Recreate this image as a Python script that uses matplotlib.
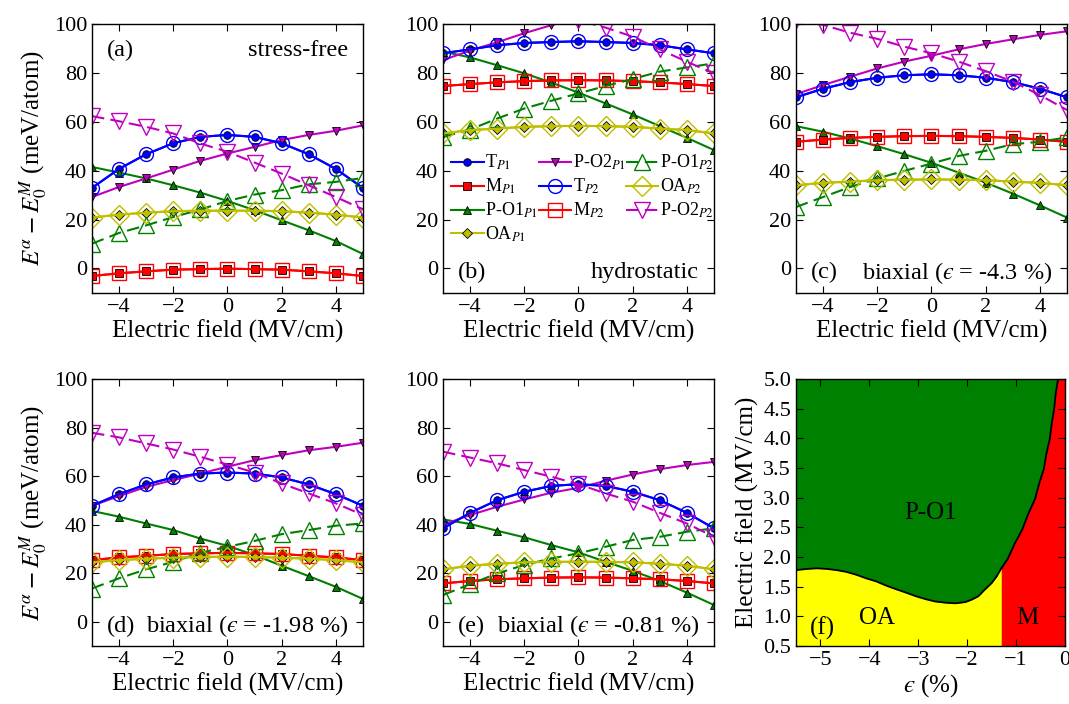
import numpy as np
import matplotlib.pyplot as plt

plt.rcParams['font.family'] = ['Liberation Serif', 'DejaVu Serif']
plt.rcParams['mathtext.fontset'] = 'stix'
plt.rcParams['xtick.direction'] = 'in'
plt.rcParams['ytick.direction'] = 'in'
plt.rcParams['xtick.top'] = True
plt.rcParams['ytick.right'] = True
plt.rcParams['xtick.major.size'] = 5
plt.rcParams['ytick.major.size'] = 5
plt.rcParams['axes.linewidth'] = 1.0
plt.rcParams['xtick.labelsize'] = 16
plt.rcParams['ytick.labelsize'] = 16

# electric field grid (MV/cm)
field = [-5, -4, -3, -2, -1, 0, 1, 2, 3, 4, 5]

# (a) stress-free
a_T = [32.9, 40.7, 46.7, 51.2, 53.8, 54.6, 53.8, 51.2, 46.7, 40.7, 32.9]
a_M = [-3.1, -2.0, -1.2, -0.5, -0.3, -0.1, -0.3, -0.5, -1.2, -2.0, -3.1]
a_OA = [20.8, 22.0, 22.8, 23.4, 23.6, 23.6, 23.6, 23.4, 22.8, 22.0, 20.8]
a_PO1 = [41.5, 39.2, 36.8, 34.0, 31.0, 27.6, 23.8, 19.7, 15.6, 11.2, 5.9]
a_PO1b = [10.1, 14.5, 17.6, 21.0, 24.1, 27.6, 30.2, 32.0, 34.4, 35.4, 37.0]
a_PO2 = [29.2, 33.3, 36.8, 40.4, 44.0, 47.0, 49.7, 52.5, 54.6, 56.3, 58.5]
a_PO2b = [62.3, 60.2, 57.9, 55.2, 51.1, 47.7, 43.3, 38.8, 34.0, 29.2, 24.2]

# (b) hydrostatic
b_T = [88.0, 89.6, 91.3, 92.2, 92.6, 92.9, 92.6, 92.2, 91.3, 89.6, 88.0]
b_M = [74.6, 75.4, 76.1, 76.6, 76.9, 77.0, 76.9, 76.6, 76.1, 75.4, 74.6]
b_OA = [55.2, 56.6, 57.2, 57.9, 58.2, 58.3, 58.2, 57.9, 57.2, 56.6, 55.2]
b_PO1 = [88.7, 86.3, 83.1, 79.8, 76.0, 71.9, 67.5, 63.0, 58.2, 53.4, 48.4]
b_PO1b = [53.8, 56.8, 61.3, 65.4, 68.6, 71.6, 74.6, 77.5, 80.5, 82.2, 83.9]
b_PO2 = [85.2, 89.1, 92.5, 96.2, 99.5, 102.5, 105.3, 108.0, 110.0, 112.0, 114.0]
b_PO2b = [112.5, 110.5, 108.0, 105.5, 103.5, 101.5, 98.5, 94.8, 89.6, 84.5, 79.8]

# (c) biaxial -4.3 %
c_T = [70.0, 73.5, 76.2, 78.0, 79.0, 79.4, 79.0, 78.0, 76.2, 73.5, 70.0]
c_M = [51.8, 52.7, 53.4, 53.8, 54.1, 54.2, 54.1, 53.8, 53.4, 52.7, 51.8]
c_OA = [34.0, 35.0, 35.5, 36.1, 36.3, 36.4, 36.3, 36.1, 35.5, 35.0, 34.0]
c_PO1 = [58.2, 55.9, 53.1, 50.0, 46.7, 43.2, 39.2, 35.1, 30.6, 25.8, 20.8]
c_PO1b = [25.1, 29.2, 33.3, 36.8, 39.9, 42.9, 46.0, 48.1, 50.8, 51.8, 53.6]
c_PO2 = [71.3, 75.0, 78.4, 81.8, 84.6, 87.0, 89.6, 91.8, 93.7, 95.5, 97.0]
c_PO2b = [101.5, 99.6, 96.4, 93.9, 90.7, 88.0, 84.6, 80.7, 76.4, 70.9, 64.8]

# (d) biaxial -1.98 %
d_T = [47.8, 52.6, 56.6, 59.5, 61.1, 61.5, 61.1, 59.5, 56.6, 52.6, 47.8]
d_M = [25.4, 26.5, 27.2, 27.9, 28.2, 28.4, 28.2, 27.9, 27.2, 26.5, 25.4]
d_OA = [24.5, 25.4, 26.0, 26.4, 26.7, 26.8, 26.7, 26.4, 26.0, 25.4, 24.5]
d_PO1 = [45.7, 43.3, 40.5, 37.8, 34.3, 31.3, 27.5, 23.1, 18.8, 14.4, 9.4]
d_PO1b = [13.7, 17.9, 21.6, 24.7, 28.4, 30.9, 33.3, 36.1, 37.8, 39.6, 40.5]
d_PO2 = [47.8, 51.8, 55.6, 58.4, 61.1, 63.9, 66.6, 68.7, 70.7, 72.1, 73.8]
d_PO2b = [77.9, 76.0, 73.5, 71.0, 68.0, 64.8, 61.5, 57.0, 52.9, 48.8, 44.0]

# (e) biaxial -0.81 %
e_T = [38.5, 44.9, 50.1, 53.6, 56.0, 56.7, 56.0, 53.6, 50.1, 44.9, 38.5]
e_M = [15.8, 16.8, 17.5, 17.9, 18.2, 18.3, 18.2, 17.9, 17.5, 16.8, 15.8]
e_OA = [21.6, 23.1, 23.9, 24.5, 24.7, 24.7, 24.7, 24.5, 23.9, 23.1, 21.6]
e_PO1 = [42.2, 40.3, 37.5, 34.8, 31.6, 28.6, 24.7, 21.0, 16.8, 12.0, 6.9]
e_PO1b = [11.0, 15.5, 19.9, 23.4, 26.1, 28.2, 30.9, 33.7, 35.0, 37.1, 38.5]
e_PO2 = [40.0, 44.0, 47.4, 50.4, 53.2, 55.2, 58.1, 60.7, 62.9, 64.6, 65.9]
e_PO2b = [70.1, 67.7, 65.3, 62.5, 59.8, 56.7, 52.9, 49.5, 44.9, 40.5, 35.0]

# (f) phase diagram boundaries (strain %, field MV/cm)
oa_eps = [-5.5, -5.27, -5.07, -4.87, -4.67, -4.47, -4.26, -4.06, -3.86, -3.66, -3.46,
          -3.25, -3.05, -2.85, -2.65, -2.44, -2.24, -2.04, -1.91, -1.77, -1.64, -1.50, -1.40, -1.30]
oa_field = [1.78, 1.80, 1.81, 1.80, 1.78, 1.75, 1.70, 1.64, 1.59, 1.52, 1.46,
            1.40, 1.34, 1.29, 1.25, 1.23, 1.22, 1.24, 1.28, 1.34, 1.45, 1.56, 1.67, 1.81]
m_eps = [-1.30, -1.17, -1.03, -0.87, -0.75, -0.61, -0.53, -0.43, -0.38, -0.31, -0.27, -0.22, -0.19, -0.14]
m_field = [1.81, 1.97, 2.22, 2.47, 2.73, 2.98, 3.23, 3.49, 3.74, 3.99, 4.25, 4.50, 4.75, 5.0]

eps = '$\u03f5$'
panels = [
    ('(a)', 'stress-free', 'top', a_T, a_M, a_PO1, a_OA, a_PO2, a_PO1b, a_PO2b),
    ('(b)', 'hydrostatic', 'bottom', b_T, b_M, b_PO1, b_OA, b_PO2, b_PO1b, b_PO2b),
    ('(c)', 'biaxial (' + eps + ' = -4.3 %)', 'bottom', c_T, c_M, c_PO1, c_OA, c_PO2, c_PO1b, c_PO2b),
    ('(d)', 'biaxial (' + eps + ' = -1.98 %)', 'bottom', d_T, d_M, d_PO1, d_OA, d_PO2, d_PO1b, d_PO2b),
    ('(e)', 'biaxial (' + eps + ' = -0.81 %)', 'bottom', e_T, e_M, e_PO1, e_OA, e_PO2, e_PO1b, e_PO2b),
]

fig = plt.figure(figsize=(10.69, 7.04), dpi=100)
lefts = [0.086, 0.4144, 0.7446]
w = 0.2535
rects = [(lefts[0], 0.584, w, 0.382), (lefts[1], 0.584, w, 0.382), (lefts[2], 0.584, w, 0.382),
         (lefts[0], 0.0824, w, 0.379), (lefts[1], 0.0824, w, 0.379)]

ms_f, ms_o = 5.5, 10
for i, (tag, note, pos, T, M, PO1, OA, PO2, PO1b, PO2b) in enumerate(panels):
    ax = fig.add_axes(rects[i])
    ax.plot(field, T, '-', color='b', lw=1.5, marker='o', ms=ms_f, mec='k', mew=0.6, label=r'T$_{P1}$')
    ax.plot(field, M, '-', color='r', lw=1.5, marker='s', ms=ms_f, mec='k', mew=0.6, label=r'M$_{P1}$')
    ax.plot(field, PO1, '-', color='g', lw=1.5, marker='^', ms=ms_f + 0.5, mec='k', mew=0.6, label=r'P-O1$_{P1}$')
    ax.plot(field, OA, '-', color='y', lw=1.5, marker='D', ms=ms_f, mec='k', mew=0.6, label=r'OA$_{P1}$')
    ax.plot(field, PO2, '-', color='m', lw=1.5, marker='v', ms=ms_f + 0.5, mec='k', mew=0.6, label=r'P-O2$_{P1}$')
    ax.plot(field, T, '-', color='b', lw=1.5, marker='o', ms=ms_o, mfc='none', mec='b', mew=1.0, label=r'T$_{P2}$')
    ax.plot(field, M, '-', color='r', lw=1.5, marker='s', ms=ms_o, mfc='none', mec='r', mew=1.0, label=r'M$_{P2}$')
    ax.plot(field, PO1b, '--', color='g', lw=1.5, dashes=(6, 3), marker='^', ms=ms_o + 1, mfc='none', mec='g', mew=1.0, label=r'P-O1$_{P2}$')
    ax.plot(field, OA, '-', color='y', lw=1.5, marker='D', ms=ms_o, mfc='none', mec='y', mew=1.0, label=r'OA$_{P2}$')
    ax.plot(field, PO2b, '--', color='m', lw=1.5, dashes=(6, 3), marker='v', ms=ms_o + 1, mfc='none', mec='m', mew=1.0, label=r'P-O2$_{P2}$')
    ax.set_xlim(-5, 5)
    ax.set_ylim(-10, 100)
    ax.set_xticks([-4, -2, 0, 2, 4])
    ax.set_yticks([0, 20, 40, 60, 80, 100])
    ax.set_xlabel('Electric field (MV/cm)', fontsize=18, labelpad=2)
    if i in (0, 3):
        ax.set_ylabel(r'$E^{\alpha} - E_0^{M}$ (meV/atom)', fontsize=18, labelpad=3)
    ty = 0.9 if pos == 'top' else 0.075
    ax.text(0.055, ty, tag, transform=ax.transAxes, fontsize=17.5, va='center', ha='left')
    ax.text(0.945, ty, note, transform=ax.transAxes, fontsize=17.5, va='center', ha='right')
    if i == 1:
        ax.legend(ncol=3, loc='upper left', bbox_to_anchor=(0.03, 0.52), frameon=False,
                  fontsize=13, numpoints=1, handlelength=1.8, handletextpad=0.1,
                  columnspacing=0.0, labelspacing=0.25, borderpad=0, borderaxespad=0)

# (f) phase diagram
ax = fig.add_axes((lefts[2], 0.0824, 0.2516, 0.379))
ax.set_facecolor((0, 0.5, 0))
ax.fill_between(oa_eps, 0.5, oa_field, color=(1, 1, 0), lw=0)
ax.fill_betweenx([0.5] + m_field, [m_eps[0]] + m_eps, 0, color=(1, 0, 0), lw=0)
ax.plot(oa_eps, oa_field, color='k', lw=1.3)
ax.plot(m_eps, m_field, color='k', lw=1.3)
ax.text(-2.75, 2.75, 'P-O1', fontsize=18, ha='center', va='center')
ax.text(-3.85, 0.97, 'OA', fontsize=18, ha='center', va='center')
ax.text(-0.76, 0.97, 'M', fontsize=18, ha='center', va='center')
ax.text(-4.95, 0.8, '(f)', fontsize=18, ha='center', va='center')
ax.set_xlim(-5.5, 0)
ax.set_ylim(0.5, 5.0)
ax.set_xticks([-5, -4, -3, -2, -1, 0])
ax.set_yticks(np.arange(0.5, 5.01, 0.5))
ax.set_yticklabels(['%.1f' % v for v in np.arange(0.5, 5.01, 0.5)])
ax.set_xlabel(eps + ' (%)', fontsize=18, labelpad=2)
ax.set_ylabel('Electric field (MV/cm)', fontsize=18, labelpad=3)

fig.savefig('out.png', dpi=100)
